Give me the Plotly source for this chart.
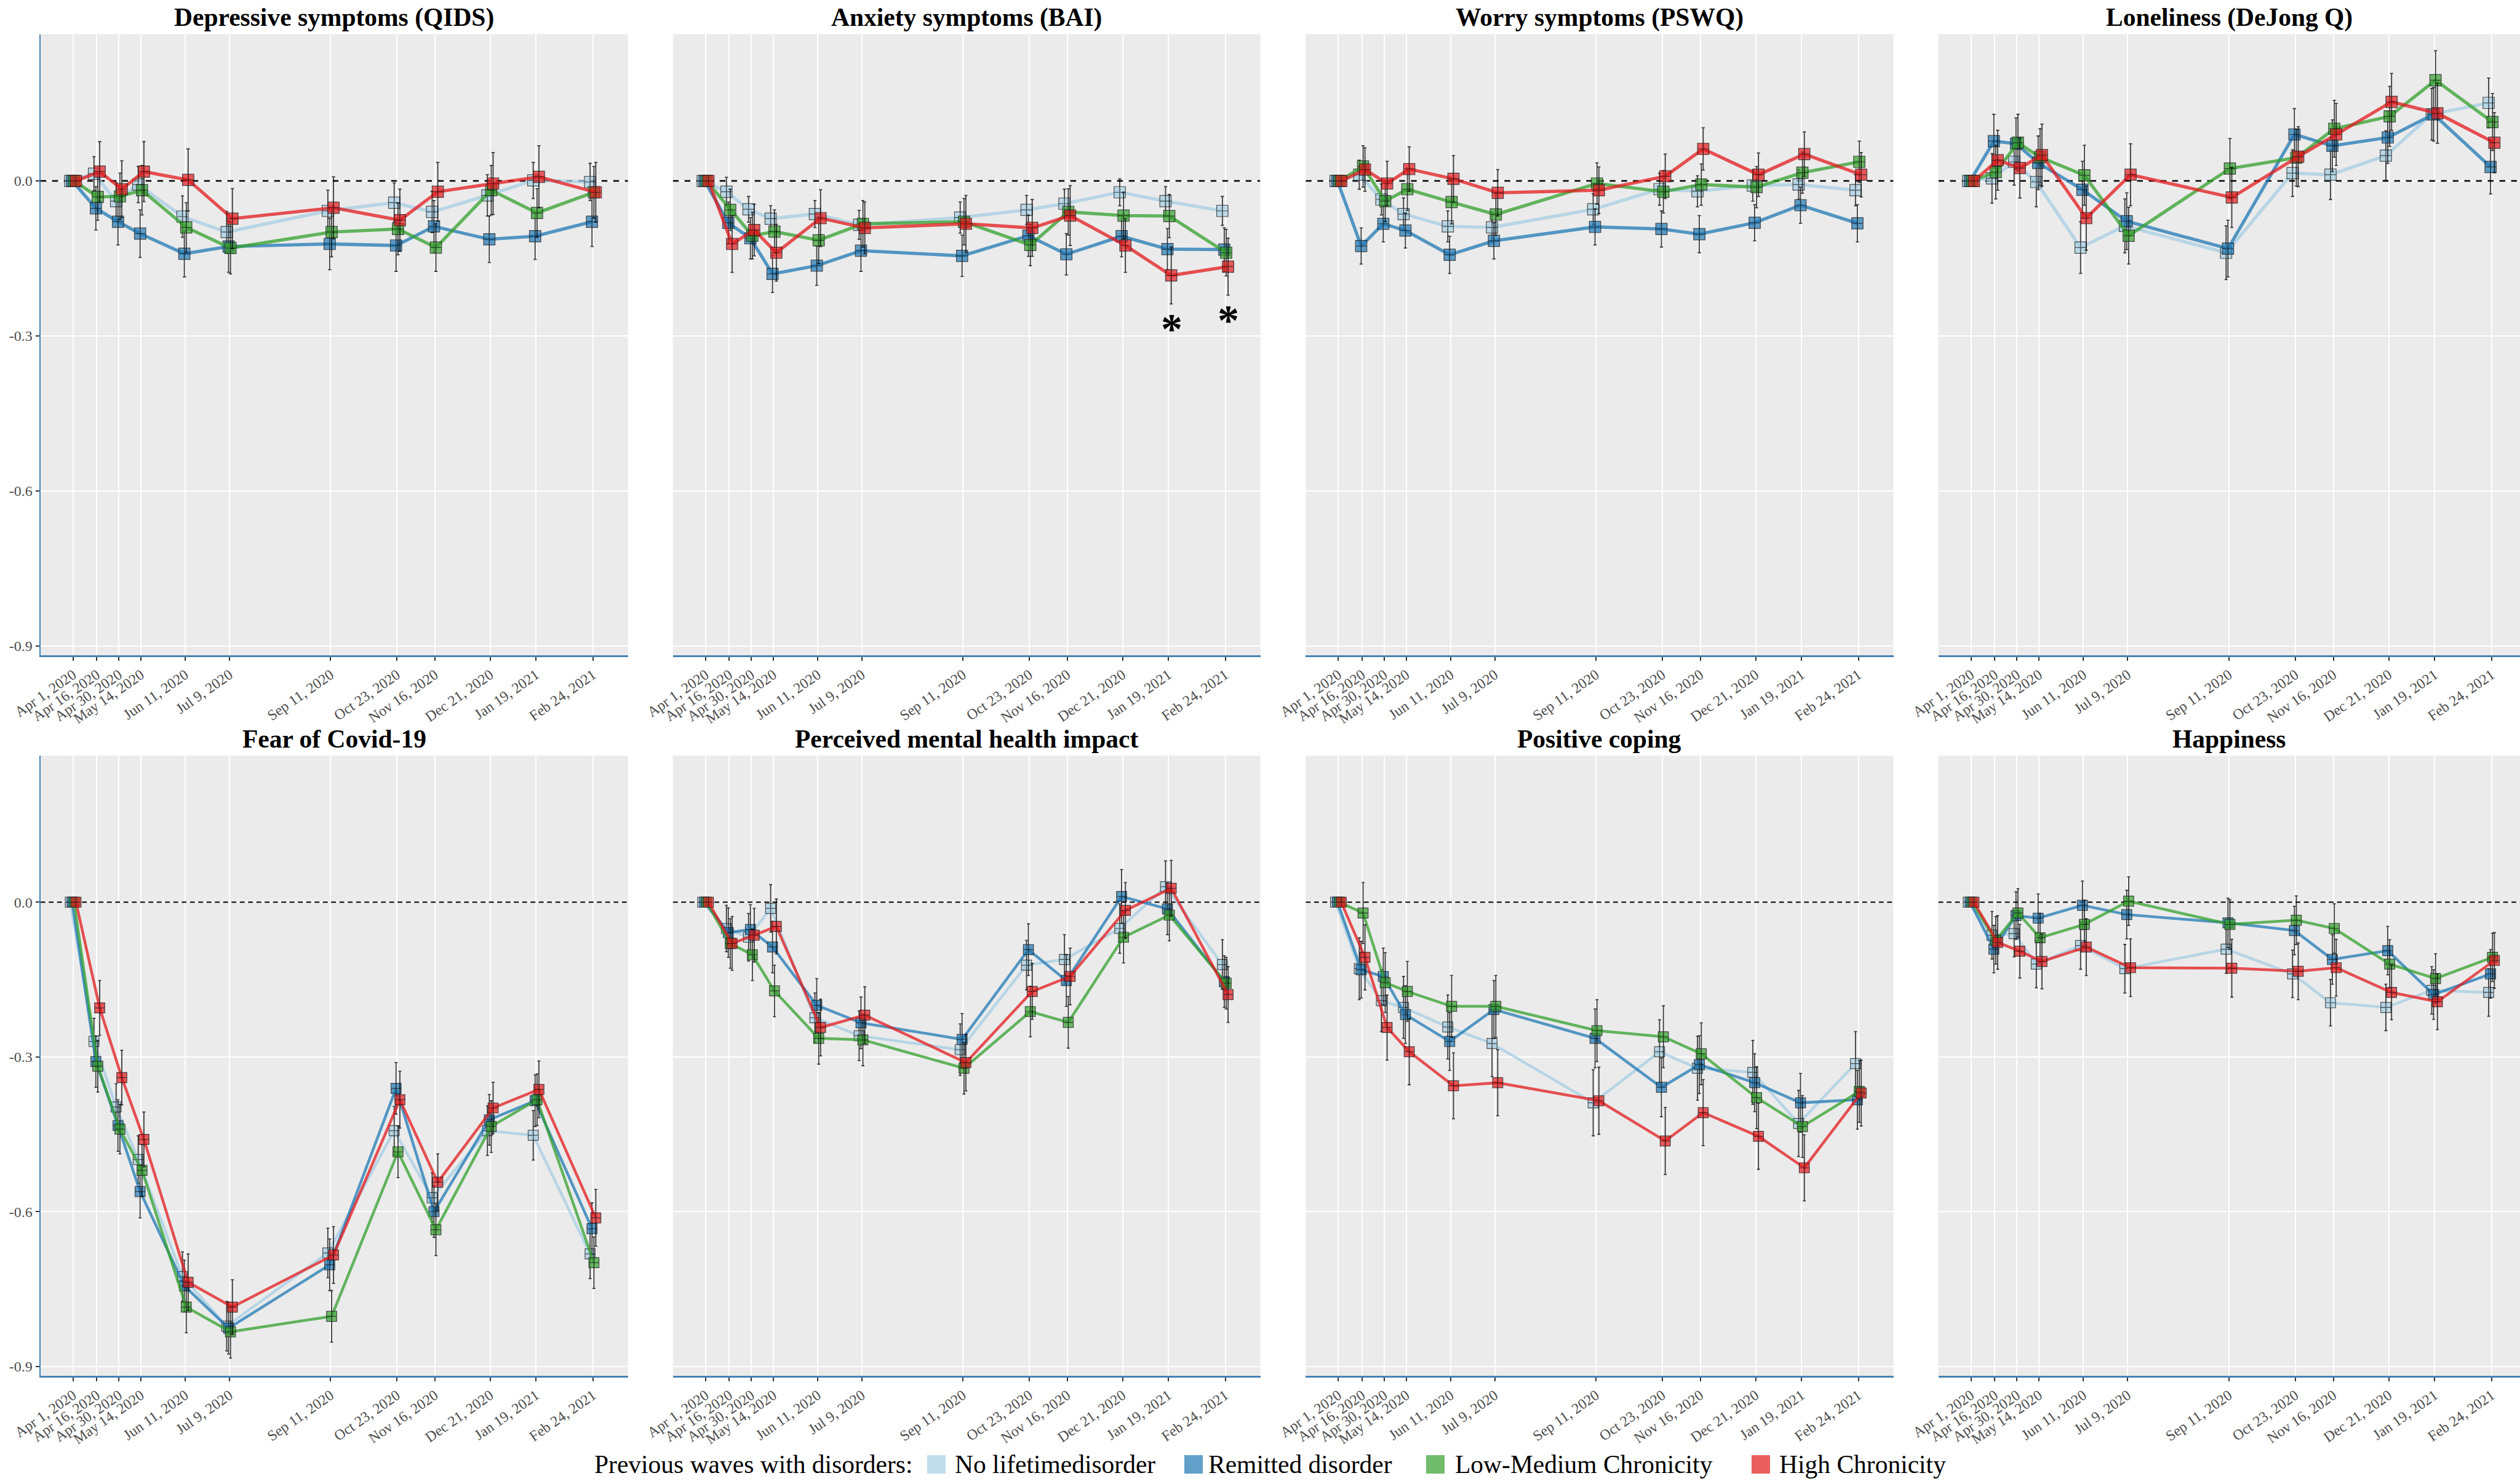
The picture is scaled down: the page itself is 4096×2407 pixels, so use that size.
import pandas as pd
import plotly.graph_objects as go

W, H = 4096, 2407

# ---- survey waves ----
wave_dates = ["2020-04-01", "2020-04-16", "2020-04-30", "2020-05-14", "2020-06-11", "2020-07-09",
              "2020-09-11", "2020-10-23", "2020-11-16", "2020-12-21", "2021-01-19", "2021-02-24"]
wave_labels = ["Apr 1, 2020", "Apr 16, 2020", "Apr 30, 2020", "May 14, 2020", "Jun 11, 2020", "Jul 9, 2020",
               "Sep 11, 2020", "Oct 23, 2020", "Nov 16, 2020", "Dec 21, 2020", "Jan 19, 2021", "Feb 24, 2021"]

# ---- groups ----
group_names = ["No lifetimedisorder", "Remitted disorder", "Low-Medium Chronicity", "High Chronicity"]
group_rgb = ["166,206,227", "31,120,180", "51,160,44", "227,26,28"]
dodge_days = [-1.8, -0.6, 0.6, 1.8]

panel_titles = ["Depressive symptoms (QIDS)", "Anxiety symptoms (BAI)", "Worry symptoms (PSWQ)",
                "Loneliness (DeJong Q)", "Fear of Covid-19", "Perceived mental health impact",
                "Positive coping", "Happiness"]

# ---- estimated change from baseline (rows: no lifetime, remitted, low-medium, high) ----
qids_mean = [
    [0, 0.014, -0.039, -0.007, -0.069, -0.099, -0.058, -0.042, -0.060, -0.028, 0.001, -0.002],
    [0, -0.053, -0.079, -0.102, -0.141, -0.127, -0.122, -0.125, -0.088, -0.113, -0.107, -0.079],
    [0, -0.031, -0.030, -0.018, -0.090, -0.130, -0.099, -0.093, -0.129, -0.018, -0.062, -0.022],
    [0, 0.018, -0.016, 0.018, 0.002, -0.073, -0.052, -0.076, -0.021, -0.005, 0.008, -0.022],
]
qids_ci = [
    [0, 0.033, 0.036, 0.035, 0.040, 0.040, 0.040, 0.038, 0.040, 0.040, 0.035, 0.036],
    [0, 0.042, 0.045, 0.046, 0.045, 0.050, 0.050, 0.050, 0.050, 0.045, 0.045, 0.048],
    [0, 0.045, 0.045, 0.048, 0.048, 0.050, 0.048, 0.050, 0.046, 0.048, 0.047, 0.050],
    [0, 0.058, 0.055, 0.058, 0.060, 0.058, 0.060, 0.060, 0.057, 0.060, 0.060, 0.058],
]
bai_mean = [
    [0, -0.021, -0.055, -0.073, -0.064, -0.085, -0.071, -0.056, -0.044, -0.022, -0.039, -0.058],
    [0, -0.081, -0.111, -0.180, -0.164, -0.135, -0.145, -0.106, -0.142, -0.107, -0.132, -0.133],
    [0, -0.056, -0.106, -0.098, -0.115, -0.083, -0.079, -0.124, -0.060, -0.067, -0.068, -0.139],
    [0, -0.122, -0.095, -0.139, -0.072, -0.091, -0.083, -0.091, -0.067, -0.125, -0.183, -0.166],
]
bai_ci = [
    [0, 0.028, 0.025, 0.025, 0.026, 0.028, 0.030, 0.028, 0.028, 0.026, 0.028, 0.028],
    [0, 0.040, 0.040, 0.036, 0.038, 0.040, 0.040, 0.040, 0.040, 0.040, 0.040, 0.042],
    [0, 0.040, 0.045, 0.042, 0.045, 0.045, 0.045, 0.040, 0.045, 0.045, 0.042, 0.045],
    [0, 0.055, 0.050, 0.055, 0.055, 0.050, 0.055, 0.055, 0.058, 0.052, 0.055, 0.055],
]
pswq_mean = [
    [0, 0.012, -0.036, -0.064, -0.088, -0.090, -0.055, -0.016, -0.020, -0.009, -0.007, -0.018],
    [0, -0.126, -0.083, -0.096, -0.143, -0.116, -0.089, -0.093, -0.103, -0.081, -0.047, -0.082],
    [0, 0.028, -0.039, -0.016, -0.041, -0.065, -0.005, -0.021, -0.007, -0.012, 0.016, 0.037],
    [0, 0.022, -0.005, 0.023, 0.004, -0.023, -0.018, 0.009, 0.062, 0.012, 0.052, 0.012],
]
pswq_ci = [
    [0, 0.028, 0.030, 0.031, 0.030, 0.029, 0.030, 0.031, 0.030, 0.030, 0.029, 0.030],
    [0, 0.035, 0.035, 0.034, 0.036, 0.035, 0.035, 0.035, 0.036, 0.035, 0.035, 0.036],
    [0, 0.040, 0.040, 0.041, 0.042, 0.040, 0.040, 0.041, 0.040, 0.040, 0.040, 0.040],
    [0, 0.042, 0.043, 0.043, 0.045, 0.045, 0.045, 0.043, 0.041, 0.042, 0.043, 0.043],
]
lone_mean = [
    [0, 0.005, 0.037, -0.002, -0.129, -0.087, -0.139, 0.015, 0.012, 0.049, 0.129, 0.151],
    [0, 0.077, 0.072, 0.035, -0.017, -0.078, -0.131, 0.090, 0.068, 0.084, 0.129, 0.027],
    [0, 0.017, 0.074, 0.046, 0.011, -0.106, 0.024, 0.045, 0.101, 0.125, 0.195, 0.114],
    [0, 0.040, 0.025, 0.050, -0.072, 0.012, -0.032, 0.047, 0.090, 0.153, 0.131, 0.074],
]
lone_ci = [
    [0, 0.048, 0.045, 0.048, 0.050, 0.052, 0.052, 0.045, 0.048, 0.048, 0.050, 0.048],
    [0, 0.052, 0.050, 0.052, 0.055, 0.055, 0.055, 0.050, 0.050, 0.050, 0.052, 0.052],
    [0, 0.052, 0.055, 0.055, 0.058, 0.055, 0.058, 0.055, 0.055, 0.058, 0.057, 0.055],
    [0, 0.058, 0.058, 0.060, 0.062, 0.060, 0.058, 0.058, 0.060, 0.055, 0.058, 0.058],
]
fear_mean = [
    [0, -0.270, -0.397, -0.499, -0.726, -0.822, -0.680, -0.443, -0.573, -0.443, -0.452, -0.682],
    [0, -0.309, -0.433, -0.561, -0.744, -0.826, -0.703, -0.361, -0.600, -0.422, -0.385, -0.633],
    [0, -0.318, -0.440, -0.520, -0.785, -0.833, -0.803, -0.484, -0.635, -0.435, -0.383, -0.699],
    [0, -0.205, -0.340, -0.460, -0.737, -0.785, -0.684, -0.383, -0.543, -0.399, -0.363, -0.612],
]
fear_ci = [
    [0, 0.045, 0.045, 0.046, 0.048, 0.048, 0.048, 0.047, 0.048, 0.048, 0.048, 0.048],
    [0, 0.050, 0.050, 0.051, 0.050, 0.050, 0.050, 0.050, 0.050, 0.049, 0.050, 0.050],
    [0, 0.050, 0.048, 0.050, 0.050, 0.051, 0.050, 0.050, 0.050, 0.050, 0.050, 0.050],
    [0, 0.053, 0.053, 0.053, 0.055, 0.053, 0.055, 0.055, 0.055, 0.050, 0.055, 0.055],
]
mhi_mean = [
    [0, -0.051, -0.068, -0.012, -0.224, -0.259, -0.286, -0.122, -0.111, -0.051, 0.030, -0.121],
    [0, -0.059, -0.053, -0.087, -0.200, -0.234, -0.266, -0.092, -0.152, 0.011, -0.013, -0.154],
    [0, -0.080, -0.102, -0.172, -0.264, -0.267, -0.322, -0.212, -0.233, -0.068, -0.025, -0.157],
    [0, -0.080, -0.064, -0.047, -0.243, -0.219, -0.311, -0.173, -0.144, -0.016, 0.027, -0.179],
]
mhi_ci = [
    [0, 0.045, 0.046, 0.046, 0.048, 0.048, 0.050, 0.048, 0.048, 0.048, 0.050, 0.048],
    [0, 0.048, 0.048, 0.050, 0.052, 0.050, 0.050, 0.050, 0.050, 0.052, 0.050, 0.050],
    [0, 0.048, 0.050, 0.050, 0.050, 0.050, 0.050, 0.049, 0.050, 0.050, 0.050, 0.050],
    [0, 0.052, 0.052, 0.053, 0.055, 0.055, 0.055, 0.054, 0.055, 0.054, 0.054, 0.054],
]
coping_mean = [
    [0, -0.129, -0.191, -0.204, -0.242, -0.274, -0.389, -0.290, -0.322, -0.330, -0.429, -0.313],
    [0, -0.131, -0.144, -0.218, -0.270, -0.208, -0.264, -0.359, -0.315, -0.350, -0.389, -0.383],
    [0, -0.021, -0.156, -0.173, -0.202, -0.202, -0.249, -0.261, -0.294, -0.379, -0.435, -0.367],
    [0, -0.107, -0.243, -0.290, -0.356, -0.350, -0.385, -0.463, -0.408, -0.454, -0.515, -0.370],
]
coping_ci = [
    [0, 0.060, 0.060, 0.060, 0.062, 0.064, 0.064, 0.062, 0.062, 0.062, 0.064, 0.062],
    [0, 0.055, 0.055, 0.056, 0.056, 0.056, 0.057, 0.057, 0.056, 0.056, 0.057, 0.057],
    [0, 0.059, 0.058, 0.058, 0.060, 0.060, 0.060, 0.060, 0.060, 0.060, 0.060, 0.060],
    [0, 0.063, 0.063, 0.064, 0.064, 0.064, 0.065, 0.065, 0.064, 0.064, 0.064, 0.064],
]
happy_mean = [
    [0, -0.064, -0.061, -0.120, -0.084, -0.129, -0.091, -0.139, -0.195, -0.204, -0.171, -0.175],
    [0, -0.091, -0.026, -0.031, -0.006, -0.024, -0.040, -0.055, -0.111, -0.094, -0.179, -0.139],
    [0, -0.074, -0.021, -0.069, -0.043, 0.002, -0.043, -0.035, -0.051, -0.120, -0.148, -0.107],
    [0, -0.078, -0.095, -0.115, -0.087, -0.127, -0.128, -0.134, -0.127, -0.175, -0.193, -0.113],
]
happy_ci = [
    [0, 0.046, 0.045, 0.046, 0.046, 0.047, 0.047, 0.046, 0.045, 0.045, 0.046, 0.046],
    [0, 0.046, 0.046, 0.047, 0.047, 0.047, 0.048, 0.047, 0.048, 0.047, 0.048, 0.047],
    [0, 0.046, 0.047, 0.047, 0.047, 0.047, 0.048, 0.047, 0.048, 0.047, 0.048, 0.047],
    [0, 0.052, 0.052, 0.053, 0.055, 0.056, 0.056, 0.055, 0.055, 0.053, 0.054, 0.054],
]

# significance markers on the anxiety panel
sig_dates = ["2021-01-19", "2021-02-24"]
sig_y = [-0.286, -0.270]

panel_means = [qids_mean, bai_mean, pswq_mean, lone_mean, fear_mean, mhi_mean, coping_mean, happy_mean]
panel_cis = [qids_ci, bai_ci, pswq_ci, lone_ci, fear_ci, mhi_ci, coping_ci, happy_ci]

# ---- geometry (pixels) ----
col_px = [(65.7, 1020.8), (1093.7, 2048.5), (2122.3, 3077.6), (3150.6, 4096.0)]
row_px = [(55.6, 1064.8), (1228.2, 2235.8)]
Y_RANGE = [-0.918, 0.284]
X_LEFT_DAYS = -20.7
X_RIGHT_DAYS = [351.2, 351.2, 351.2, 347.0]
origin = pd.Timestamp("2020-04-01")


def px_x(p):
    return p / W


def px_y(p):
    return 1 - p / H


def day_str(d):
    return (origin + pd.Timedelta(days=d)).strftime("%Y-%m-%d %H:%M:%S")


SERIF = "Liberation Serif, Times New Roman, serif"
row_style = [
    dict(msize=18.5, mline=1.2, lw=5.3, et=1.8, ew=2.6, dash_w=2.6, dash="9.5px,9.5px"),
    dict(msize=16.5, mline=1.2, lw=4.5, et=1.8, ew=2.4, dash_w=2.1, dash="8px,5.5px"),
]

fig = go.Figure()
layout = dict(
    template="none",
    width=W, height=H, autosize=False,
    margin=dict(l=0, r=0, t=0, b=0, pad=0, autoexpand=False),
    paper_bgcolor="white", plot_bgcolor="#EBEBEB",
    showlegend=False,
    font=dict(family=SERIF, color="#4D4D4D"),
)
annotations = []
shapes = []

base_dates = pd.to_datetime(wave_dates)

for k in range(8):
    r, c = divmod(k, 4)
    st = row_style[r]
    sfx = "" if k == 0 else str(k + 1)
    xa, ya = "x" + sfx, "y" + sfx
    x_range = [day_str(X_LEFT_DAYS), day_str(X_RIGHT_DAYS[c])]

    layout["xaxis" + sfx] = dict(
        domain=[px_x(col_px[c][0]), px_x(col_px[c][1])], anchor=ya, automargin=False,
        type="date", range=x_range,
        tickmode="array", tickvals=wave_dates, ticktext=wave_labels, tickangle=-35,
        tickfont=dict(family=SERIF, size=24, color="#4D4D4D"),
        ticks="outside", ticklen=6, tickwidth=2, tickcolor="#333333",
        showline=True, linecolor="#4682B4", linewidth=2.6,
        showgrid=True, gridcolor="white", gridwidth=2, zeroline=False, fixedrange=True,
    )
    first_col = c == 0
    layout["yaxis" + sfx] = dict(
        domain=[px_y(row_px[r][1]), px_y(row_px[r][0])], anchor=xa, automargin=False,
        range=Y_RANGE, tickmode="array", tickvals=[0, -0.3, -0.6, -0.9],
        ticktext=["0.0", "-0.3", "-0.6", "-0.9"], showticklabels=first_col,
        tickfont=dict(family=SERIF, size=24, color="#4D4D4D"),
        ticks="outside" if first_col else "", ticklen=6, tickwidth=2, tickcolor="#333333",
        showline=first_col, linecolor="#4682B4", linewidth=2.2,
        showgrid=True, gridcolor="white", gridwidth=2, zeroline=False, fixedrange=True,
    )

    # dashed reference line at zero change, under the group series
    fig.add_trace(go.Scatter(
        x=x_range, y=[0, 0], xaxis=xa, yaxis=ya, mode="lines", hoverinfo="skip",
        line=dict(color="black", width=st["dash_w"], dash=st["dash"]), showlegend=False,
    ))

    for g in range(4):
        xs = base_dates + pd.Timedelta(days=dodge_days[g])
        rgb = group_rgb[g]
        fig.add_trace(go.Scatter(
            x=xs, y=panel_means[k][g], xaxis=xa, yaxis=ya, mode="lines+markers",
            name=group_names[g],
            line=dict(color=f"rgba({rgb},0.75)", width=st["lw"]),
            marker=dict(symbol="square-cross", size=st["msize"], color=f"rgba({rgb},0.7)",
                        line=dict(color="rgba(30,30,30,0.75)", width=st["mline"])),
            error_y=dict(type="data", array=panel_cis[k][g], visible=True,
                         color="rgba(0,0,0,0.75)", thickness=st["et"], width=st["ew"]),
        ))

    # panel title
    annotations.append(dict(
        text="<b>" + panel_titles[k] + "</b>", xref="paper", yref="paper",
        x=px_x((col_px[c][0] + col_px[c][1]) / 2), y=px_y(row_px[r][0] - 27.5),
        xanchor="center", yanchor="middle", showarrow=False,
        font=dict(family=SERIF, size=41.5, color="black"),
    ))

# significance asterisks (anxiety panel), placed beside the high-chronicity points
for d, yv in zip(sig_dates, sig_y):
    annotations.append(dict(
        text="<b>*</b>", x=(pd.Timestamp(d) + pd.Timedelta(days=2)).strftime("%Y-%m-%d %H:%M:%S"), y=yv,
        xref="x2", yref="y2", xanchor="center", yanchor="middle", showarrow=False,
        font=dict(family=SERIF, size=70, color="black"),
    ))

# legend drawn along the bottom
leg_y = 2380.0
annotations.append(dict(
    text="Previous waves with disorders:", xref="paper", yref="paper",
    x=px_x(964), y=px_y(leg_y), xanchor="left", yanchor="middle", showarrow=False,
    font=dict(family=SERIF, size=41.5, color="black"),
))
key_left = [1507, 1925, 2318, 2847]
text_left = [1550, 1962, 2363, 2890]
key_size = 30
for g in range(4):
    shapes.append(dict(type="rect", xref="paper", yref="paper", layer="above",
                       x0=px_x(key_left[g]), x1=px_x(key_left[g] + key_size),
                       y0=px_y(leg_y + key_size / 2), y1=px_y(leg_y - key_size / 2),
                       fillcolor=f"rgba({group_rgb[g]},0.7)", line=dict(width=0)))
    annotations.append(dict(
        text=group_names[g], xref="paper", yref="paper",
        x=px_x(text_left[g]), y=px_y(leg_y), xanchor="left", yanchor="middle", showarrow=False,
        font=dict(family=SERIF, size=41.5, color="black"),
    ))

layout["annotations"] = annotations
layout["shapes"] = shapes
fig.update_layout(**layout)

fig.write_html("out.html")
